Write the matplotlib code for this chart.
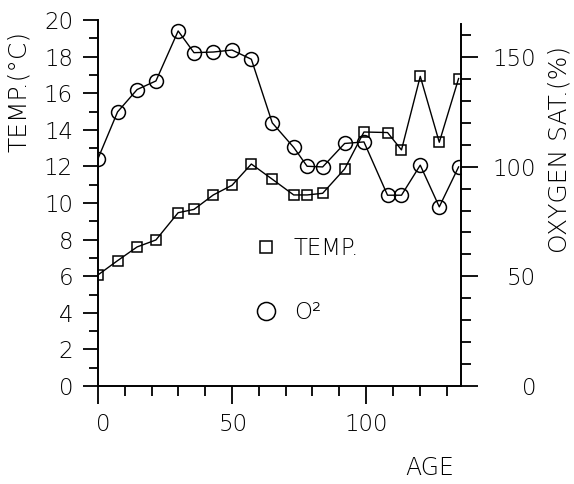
import matplotlib
matplotlib.use("Agg")
import matplotlib.pyplot as plt
from matplotlib.lines import Line2D
from matplotlib.ticker import MultipleLocator
from matplotlib.transforms import ScaledTranslation

plt.rcParams['font.family'] = ['DejaVu Sans']
plt.rcParams['font.weight'] = 'light'

age = [0, 7.3, 14.6, 21.6, 29.9, 35.8, 43.0, 50.0, 57.2, 65.0, 73.0, 78.0, 83.8, 92.0, 99.2, 108.0, 113.2, 120.2, 127.3, 134.5]
temp = [6.07, 6.85, 7.6, 7.98, 9.47, 9.65, 10.44, 10.97, 12.13, 11.3, 10.44, 10.44, 10.53, 11.86, 13.88, 13.85, 12.9, 16.92, 13.32, 16.8]
oxygen = [103.7, 125.0, 135.2, 139.1, 161.9, 152.0, 152.3, 153.2, 149.0, 120.0, 108.8, 100.2, 99.9, 110.6, 111.3, 87.0, 87.0, 100.7, 81.7, 99.9]

W, H = 574, 484
fig = plt.figure(figsize=(W / 100, H / 100), dpi=100)
x0, x1, yb, yt = 98, 461, 386, 20
ax = fig.add_axes([x0 / W, 1 - yb / H, (x1 - x0) / W, (yb - yt) / H])
ax.set_xlim(0, 135.4)
ax.set_ylim(0, 20)
ax2 = ax.twinx()
ax2.set_ylim(0, 166.9)

for s in ['top', 'right']:
    ax.spines[s].set_visible(False)
for s in ['top', 'left', 'bottom']:
    ax2.spines[s].set_visible(False)
ax2.spines['right'].set_bounds(0, 165)
for sp in list(ax.spines.values()) + list(ax2.spines.values()):
    sp.set_linewidth(1.4)

px = 0.72  # points per pixel
fs = 16.5
ax.xaxis.set_major_locator(MultipleLocator(50))
ax.xaxis.set_minor_locator(MultipleLocator(10))
ax.yaxis.set_major_locator(MultipleLocator(2))
ax.yaxis.set_minor_locator(MultipleLocator(1))
ax2.yaxis.set_major_locator(MultipleLocator(50))
ax2.yaxis.set_minor_locator(MultipleLocator(10))

ax.tick_params(axis='x', which='major', direction='out', length=18 * px, width=1.3, pad=9 * px, labelsize=fs)
ax.tick_params(axis='x', which='minor', direction='out', length=10 * px, width=1.3)
ax.tick_params(axis='y', which='major', direction='out', length=15 * px, width=1.3, pad=10 * px, labelsize=fs)
ax.tick_params(axis='y', which='minor', direction='out', length=9 * px, width=1.3)
ax2.tick_params(axis='y', which='major', direction='out', length=17 * px, width=1.3, pad=58 * px, labelsize=fs)
ax2.tick_params(axis='y', which='minor', direction='out', length=10 * px, width=1.3)
for lab in ax2.get_yticklabels():
    lab.set_horizontalalignment('right')

ax.plot(age, temp, color='black', lw=1.0, marker='s', ms=7, mfc='none', mec='black', mew=1.1, zorder=3)
ax2.plot(age, oxygen, color='black', lw=1.0, marker='o', ms=10, mfc='none', mec='black', mew=1.1, zorder=3)

fig.text(19 / W, 1 - 91 / H, 'TEMP.(°C)', rotation=90, ha='center', va='center', fontsize=18)
fig.text(559 / W, 1 - 149 / H, 'OXYGEN SAT.(%)', rotation=90, ha='center', va='center', fontsize=18)
fig.text(430 / W, 1 - 468 / H, 'AGE', ha='center', va='center', fontsize=17)

handles = [Line2D([], [], ls='none', marker='s', ms=9, mfc='none', mec='black', mew=1.1),
           Line2D([], [], ls='none', marker='o', ms=13, mfc='none', mec='black', mew=1.1)]
ax.legend(handles, ['TEMP.', 'O²'], loc='upper left', bbox_to_anchor=(255 / W, 1 - 237 / H),
          bbox_transform=fig.transFigure, frameon=False, fontsize=fs, handlelength=1.0,
          handletextpad=0.7, labelspacing=1.8, borderpad=0, borderaxespad=0)

fig.canvas.draw()
for tick, dx in zip(ax.xaxis.get_major_ticks(), [12, 5, 1]):
    lab = tick.label1
    lab.set_transform(lab.get_transform() + ScaledTranslation(dx / 100, 0, fig.dpi_scale_trans))

fig.savefig('out.png', dpi=100)
